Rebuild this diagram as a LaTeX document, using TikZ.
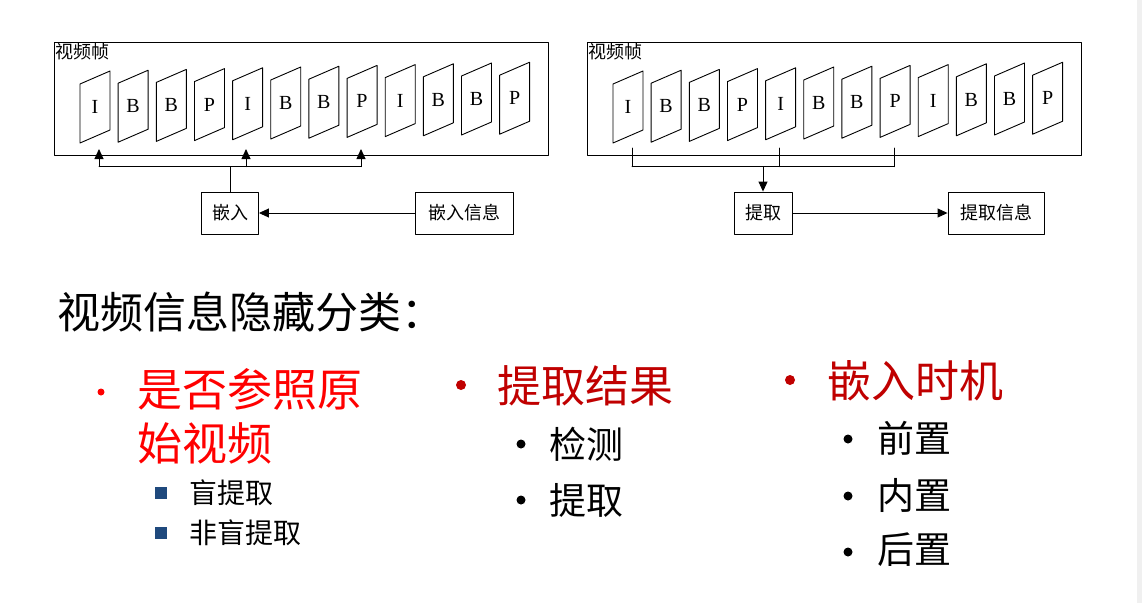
\documentclass[tikz,border=0pt]{standalone}
\usepackage{fontspec}
\setmainfont{Liberation Serif}
\newfontfamily\cjk{Noto Sans CJK SC}
\usetikzlibrary{arrows.meta,positioning}
\definecolor{darkred}{RGB}{192,0,0}
\definecolor{squareblue}{RGB}{31,73,125}
\tikzset{
  frm/.style={line width=0.9pt},
  line/.style={line width=0.9pt},
  arr/.style={line width=0.9pt,-{Triangle[length=10pt,width=9pt]}},
  box/.style={draw,line width=0.9pt,minimum height=42pt,inner sep=0pt,font=\cjk\fontsize{18}{18}\selectfont},
  item/.style={anchor=west,inner sep=0pt}
}
\begin{document}
\begin{tikzpicture}[x=1pt,y=-1pt,line cap=round,line join=round]
  \useasboundingbox (0,0) rectangle (1142,603);
  \fill[white] (0,0) rectangle (1142,603);
  \fill[black!6] (1137,0) rectangle (1142,603);
  % the two rows of frames
  \foreach \ox/\p in {0/L,533/R} {
    \draw[line] (54+\ox,42) rectangle (548+\ox,155);
    \node[anchor=north west,inner sep=1pt,font=\cjk\fontsize{18}{18}\selectfont] (title\p) at (54+\ox,42) {视频帧};
    \foreach \lt [count=\i from 0] in {I,B,B,P,I,B,B,P,I,B,B,P} {
      \pgfmathsetmacro\fx{80+\ox+38.15*\i}
      \pgfmathsetmacro\fy{84-0.8*\i}
      \draw[frm] (\fx,\fy) -- ++(30,-13) -- ++(0,59) -- ++(-30,13) -- cycle;
      \node[font=\fontsize{20}{20}\selectfont] (\p f\i) at (\fx+15,\fy+23) {\lt};
    }
  }
  % embedding side
  \node[box,minimum width=57pt] (emb) at (230,213) {嵌入};
  \node[box,minimum width=98pt] (embinfo) at (464,213) {嵌入信息};
  \draw[arr] (embinfo.west) -- (emb.east);
  \foreach \x [count=\k] in {99,246,361} {
    \coordinate (inL\k) at (\x,149);
    \coordinate (bL\k) at (\x,166.7);
    \coordinate (outR\k) at (\x+533,148);
    \coordinate (bR\k) at (\x+533,166.7);
  }
  \draw[line] (bL1) -- (bL3);
  \draw[line] (emb.north) -- (emb.north |- bL1);
  \foreach \k in {1,2,3} \draw[arr] (bL\k) -- (inL\k);
  % extraction side
  \node[box,minimum width=58pt] (ext) at (763,213) {提取};
  \node[box,minimum width=96pt] (extinfo) at (996,213) {提取信息};
  \draw[arr] (ext.east) -- (extinfo.west);
  \foreach \k in {1,2,3} \draw[line] (outR\k) -- (bR\k);
  \draw[line] (bR1) -- (bR3);
  \draw[arr] (ext.north |- bR1) -- (ext.north);
  % classification text
  \node[item,font=\cjk\fontsize{43}{43}\selectfont] (head) at (57,312) {视频信息隐藏分类：};
  \fill[red] (101,392) circle (3.5);
  \node[item,red,font=\cjk\fontsize{45}{45}\selectfont] (ref1) at (137,389) {是否参照原};
  \node[item,red,font=\cjk\fontsize{45}{45}\selectfont] (ref2) at (137,443) {始视频};
  \fill[squareblue] (155,487) rectangle ++(12,12);
  \node[item,font=\cjk\fontsize{28}{28}\selectfont] (blind) at (189,493) {盲提取};
  \fill[squareblue] (155,527) rectangle ++(12,12);
  \node[item,font=\cjk\fontsize{28}{28}\selectfont] (nonblind) at (189,533) {非盲提取};
  \fill[darkred] (461,385) circle (5);
  \node[item,darkred,font=\cjk\fontsize{44}{44}\selectfont] (result) at (497,386) {提取结果};
  \fill (521,444) circle (4.5);
  \node[item,font=\cjk\fontsize{37}{37}\selectfont] (detect) at (549,444) {检测};
  \fill (521,500) circle (4.5);
  \node[item,font=\cjk\fontsize{37}{37}\selectfont] (extract) at (549,500) {提取};
  \fill[darkred] (790,380) circle (5);
  \node[item,darkred,font=\cjk\fontsize{44}{44}\selectfont] (timing) at (827,381) {嵌入时机};
  \fill (848,439) circle (4.5);
  \node[item,font=\cjk\fontsize{37}{37}\selectfont] (pre) at (877,438) {前置};
  \fill (848,496) circle (4.5);
  \node[item,font=\cjk\fontsize{37}{37}\selectfont] (inner) at (877,495) {内置};
  \fill (848,552) circle (4.5);
  \node[item,font=\cjk\fontsize{37}{37}\selectfont] (post) at (877,550) {后置};
\end{tikzpicture}
\end{document}
